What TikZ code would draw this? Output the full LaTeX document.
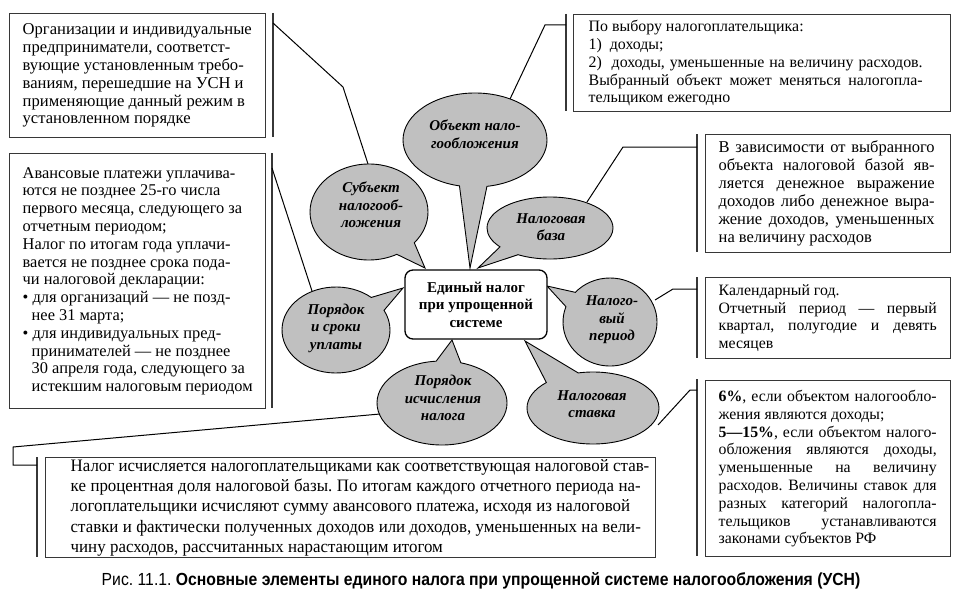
\documentclass[tikz,border=0pt]{standalone}
\usepackage{fontspec}
\setmainfont{Liberation Serif}
\newfontfamily\condfont[FakeStretch=0.965]{Liberation Serif}
\newfontfamily\capfont[FakeStretch=0.9]{Liberation Sans}
\usetikzlibrary{shapes.callouts}
\definecolor{bubfill}{RGB}{192,192,192}
\definecolor{boxline}{RGB}{55,55,55}
\frenchspacing
\newcommand{\nsp}{\spaceskip=0.25em plus 0.1em minus 0.05em\xspaceskip=0pt\relax}
\newcommand{\jl}[2]{\leavevmode\hbox to #1{\spaceskip=0.25em plus 3em\xspaceskip=0pt\relax #2}}
\begin{document}
\begin{tikzpicture}[x=1pt,y=-1pt,
  infobox/.style={draw=boxline, line width=1.4pt, fill=white, inner xsep=11pt, inner ysep=0pt,
    align=left, anchor=north west, font=\fontsize{15.8}{17.8}\selectfont},
  bracketline/.style={draw=boxline, line width=1.7pt},
  conn/.style={draw=black, line width=1pt},
  bubble/.style={ellipse callout, draw=black, line width=0.9pt, fill=bubfill, inner sep=0pt, callout pointer arc=22},
  btext/.style={font=\fontsize{15}{17.5}\selectfont\bfseries\itshape, align=center, inner sep=0pt},
  centerbox/.style={draw=black, line width=1.3pt, fill=white, rounded corners=8pt, minimum width=142pt,
    minimum height=69pt, align=center, inner sep=0pt, font=\fontsize{15}{17.5}\selectfont\bfseries}
]
\fill[white] (0,0) rectangle (960,599);
\useasboundingbox (0,0) rectangle (960,599);

% ---------- info boxes ----------
\node[infobox, minimum width=256pt, minimum height=124pt, text width=230pt, inner xsep=13pt,
  font=\fontsize{16.6}{17.8}\selectfont] (b1) at (9,13)
{\nsp Организации и индивидуальные\\
предприниматели, соответст-\\
вующие установленным требо-\\
ваниям, перешедшие на УСН и\\
применяющие данный режим в\\
установленном порядке};

\node[infobox, minimum width=256pt, minimum height=255pt, text width=230pt, inner xsep=13pt,
  font=\fontsize{16.4}{17.8}\selectfont] (b2) at (9,153)
{\nsp Авансовые платежи уплачива-\\
ются не позднее 25-го числа\\
первого месяца, следующего за\\
отчетным периодом;\\
Налог по итогам года уплачи-\\
вается не позднее срока пода-\\
чи налоговой декларации:\\
\textbullet\ для организаций — не позд-\\
\hspace*{9pt}нее 31 марта;\\
\textbullet\ для индивидуальных пред-\\
\hspace*{9pt}принимателей — не позднее\\
\hspace*{9pt}30 апреля года, следующего за\\
\hspace*{9pt}истекшим налоговым периодом};

\node[infobox, minimum width=377pt, minimum height=97pt, text width=347pt, inner xsep=15pt,
  font=\fontsize{15.9}{17.8}\selectfont] (b3) at (573,14)
{\nsp По выбору налогоплательщика:\\
1)\ \ доходы;\\
\jl{334pt}{2)\ \ доходы, уменьшенные на величину расходов.}\\
\jl{334pt}{Выбранный объект может меняться налогопла-}\\
тельщиком ежегодно};

\node[infobox, minimum width=245pt, minimum height=118pt, text width=219pt, inner xsep=13pt,
  font=\fontsize{16.5}{18}\selectfont] (b4) at (705,134)
{\nsp\jl{216pt}{В зависимости от выбранного}\\
\jl{216pt}{объекта налоговой базой яв-}\\
\jl{216pt}{ляется денежное выражение}\\
\jl{216pt}{доходов либо денежное выра-}\\
\jl{216pt}{жение доходов, уменьшенных}\\
на величину расходов};

\node[infobox, minimum width=245pt, minimum height=81pt, text width=219pt, inner xsep=13pt] (b5) at (705,277)
{\nsp Календарный год.\\
\jl{218pt}{Отчетный период — первый}\\
\jl{218pt}{квартал, полугодие и девять}\\
месяцев};

\node[infobox, minimum width=245pt, minimum height=176pt, text width=219pt, inner xsep=13pt] (b6) at (705,380)
{\nsp\jl{218pt}{\textbf{6\%}, если объектом налогообло-}\\
жения являются доходы;\\
\jl{218pt}{\textbf{5—15\%}, если объектом налого-}\\
\jl{218pt}{обложения являются доходы,}\\
\jl{218pt}{уменьшенные на величину}\\
\jl{218pt}{расходов. Величины ставок для}\\
\jl{218pt}{разных категорий налогопла-}\\
\jl{218pt}{тельщиков устанавливаются}\\
законами субъектов РФ};

\node[infobox, minimum width=610pt, minimum height=100pt, text width=560pt, inner xsep=25pt,
  font=\condfont\fontsize{17.5}{20.3}\selectfont] (b7) at (45,457)
{\nsp\jl{570pt}{Налог исчисляется налогоплательщиками как соответствующая налоговой став-}\\
\jl{570pt}{ке процентная доля налоговой базы. По итогам каждого отчетного периода на-}\\
логоплательщики исчисляют сумму авансового платежа, исходя из налоговой\\
\jl{570pt}{ставки и фактически полученных доходов или доходов, уменьшенных на вели-}\\
чину расходов, рассчитанных нарастающим итогом};

% ---------- brackets ----------
\coordinate (k1t) at (273,13);   \coordinate (k1b) at (273,137);
\coordinate (k2t) at (272,153);  \coordinate (k2b) at (272,408);
\coordinate (k3t) at (566,14);   \coordinate (k3b) at (566,111);
\coordinate (k4t) at (697,134);  \coordinate (k4b) at (697,252);
\coordinate (k5t) at (697,277);  \coordinate (k5b) at (697,358);
\coordinate (k6t) at (697,379);  \coordinate (k6b) at (697,556);
\coordinate (k7t) at (37,457);   \coordinate (k7b) at (37,557);
\foreach \k in {1,...,7} {\draw[bracketline] (k\k t) -- (k\k b);}

% ---------- bubbles ----------
\node[bubble, minimum width=118pt, minimum height=96pt, callout absolute pointer={(425,268)}] (subj) at (369,212) {};
\node[bubble, minimum width=144pt, minimum height=94pt, callout absolute pointer={(470,268)}] (obj) at (475,140) {};
\node[bubble, minimum width=126pt, minimum height=62pt, callout absolute pointer={(478,268)}] (base) at (550,228) {};
\node[bubble, minimum width=94pt, minimum height=88pt, callout absolute pointer={(547,286)}] (per) at (610,322) {};
\node[bubble, minimum width=108pt, minimum height=86pt, callout absolute pointer={(403,288)}] (pay) at (336,330) {};
\node[bubble, minimum width=130pt, minimum height=84pt, callout absolute pointer={(452,340)}] (calc) at (442,403) {};
\node[bubble, minimum width=132pt, minimum height=72pt, callout absolute pointer={(525,341)},
  callout pointer arc=32] (rate) at (593,408) {};

\node[btext] (subjt) at (371,205) {Субъект\\налогооб-\\ложения};
\node[btext] (objt) at (475,134) {Объект нало-\\гообложения};
\node[btext] (baset) at (551,227) {Налоговая\\база};
\node[btext] (pert) at (612,320) {Налого-\\вый\\период};
\node[btext] (payt) at (336,328) {Порядок\\и сроки\\уплаты};
\node[btext] (calct) at (443,398) {Порядок\\исчисления\\налога};
\node[btext] (ratet) at (592,404) {Налоговая\\ставка};

% ---------- centre ----------
\node[centerbox] (c) at (476,304.5) {Единый налог\\при упрощенной\\системе};

% ---------- connectors ----------
\coordinate (s1) at (273,23);  \coordinate (s2) at (343,87);  \coordinate (s3) at (368,164);
\draw[conn] (s1) -- (s2) -- (s3);
\coordinate (p1) at (272,168); \coordinate (p2) at (312,291);
\draw[conn] (p1) -- (p2);
\coordinate (o1) at (566,25);  \coordinate (o2) at (545,25);  \coordinate (o3) at (510,99);
\draw[conn] (o1) -- (o2) -- (o3);
\coordinate (n1) at (697,147); \coordinate (n2) at (623,147); \coordinate (n3) at (587,202);
\draw[conn] (n1) -- (n2) -- (n3);
\coordinate (r1) at (697,289); \coordinate (r2) at (673,289); \coordinate (r3) at (655,300);
\draw[conn] (r1) -- (r2) -- (r3);
\coordinate (t1) at (697,390); \coordinate (t2) at (690,390); \coordinate (t3) at (658,425);
\draw[conn] (t1) -- (t2) -- (t3);
\coordinate (q1) at (380,414); \coordinate (q2) at (13,447); \coordinate (q3) at (13,465); \coordinate (q4) at (37,465);
\draw[conn] (q1) -- (q2) -- (q3) -- (q4);

% ---------- caption ----------
\node[inner sep=0pt, font=\capfont\fontsize{17.5}{20}\selectfont] (cap) at (481,581)
{Рис. 11.1. \textbf{Основные элементы единого налога при упрощенной системе налогообложения (УСН)}};
\end{tikzpicture}
\end{document}
